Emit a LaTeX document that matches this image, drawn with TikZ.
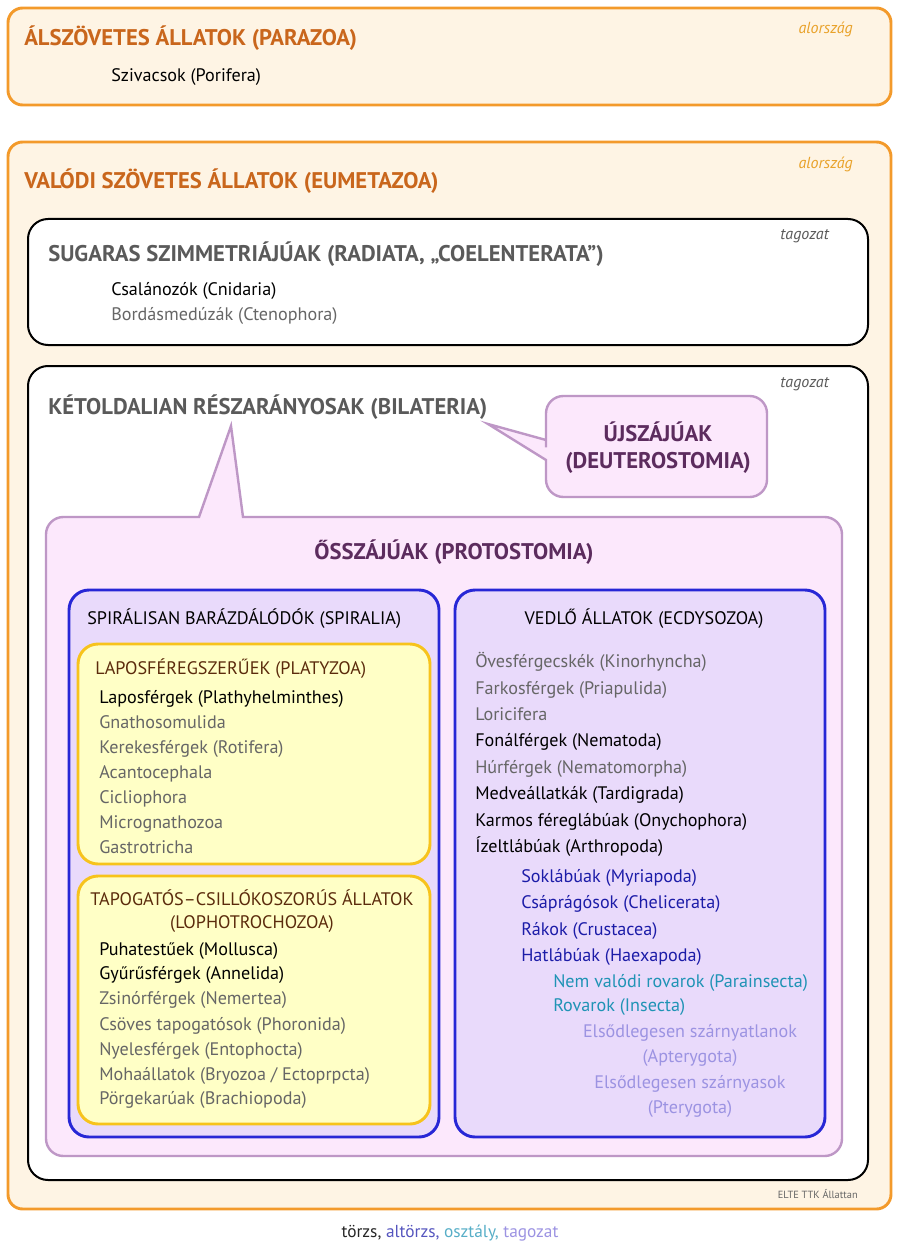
\documentclass[tikz,border=0pt]{standalone}
\usepackage{fontspec}
\setmainfont{PT Sans}
\usetikzlibrary{positioning}
\definecolor{orangeline}{RGB}{243,154,43}
\definecolor{creamfill}{RGB}{254,244,228}
\definecolor{orangetext}{RGB}{201,102,28}
\definecolor{ranktext}{RGB}{233,162,42}
\definecolor{calloutline}{RGB}{190,151,198}
\definecolor{calloutfill}{RGB}{252,232,252}
\definecolor{callouttext}{RGB}{92,44,94}
\definecolor{cladeblue}{RGB}{39,39,214}
\definecolor{cladefill}{RGB}{233,218,251}
\definecolor{groupgold}{RGB}{247,195,28}
\definecolor{groupfill}{RGB}{255,255,198}
\definecolor{grouptext}{RGB}{91,43,12}
\definecolor{headgray}{RGB}{90,90,90}
\definecolor{itemgray}{RGB}{102,102,102}
\definecolor{subphylum}{RGB}{28,28,168}
\definecolor{classteal}{RGB}{31,147,181}
\definecolor{orderlilac}{RGB}{156,147,226}

\begin{document}
\begin{tikzpicture}[
    x=0.75pt, y=-0.75pt,
    kingdom/.style={draw=orangeline, fill=creamfill, line width=2.2pt, rounded corners=11pt},
    division/.style={draw=black, fill=white, line width=1.5pt, rounded corners=15pt},
    callout/.style={draw=calloutline, fill=calloutfill, line width=1.8pt},
    clade/.style={draw=cladeblue, fill=cladefill, line width=2.2pt, rounded corners=15pt},
    group/.style={draw=groupgold, fill=groupfill, line width=2.2pt, rounded corners=15pt},
    head/.style={anchor=base west, inner sep=0pt, font=\bfseries\fontsize{17}{20}\selectfont},
    rank/.style={anchor=base east, inner sep=0pt, font=\itshape\fontsize{12}{14}\selectfont},
    item/.style={anchor=base west, inner sep=0pt, font=\fontsize{13.6}{16}\selectfont},
    mid/.style={item, anchor=base}
]
    \useasboundingbox (0,0) rectangle (900,1241);

    % alorszagok
    \draw[kingdom] (8,8) rectangle (891,105);
    \node[head, orangetext] (parazoa) at (24,46) {ÁLSZÖVETES ÁLLATOK (PARAZOA)};
    \node[rank, ranktext] (rank1) at (853,34) {alország};
    \node[item] (porifera) at (111,82) {Szivacsok (Porifera)};

    \draw[kingdom] (8,142) rectangle (891,1209);
    \node[head, orangetext] (eumetazoa) at (24,189) {VALÓDI SZÖVETES ÁLLATOK (EUMETAZOA)};
    \node[rank, ranktext] (rank2) at (853,169) {alország};
    \node[rank, itemgray, font=\fontsize{7.8}{9}\selectfont] (source) at (858,1198) {ELTE TTK Állattan};

    % tagozatok
    \draw[division] (28,219) rectangle (868,345);
    \node[rank, headgray] (rank3) at (829,239) {tagozat};
    \node[head, headgray] (radiata) at (48,262) {SUGARAS SZIMMETRIÁJÚAK (RADIATA, „COELENTERATA”)};
    \node[item] (cnidaria) at (111,295) {Csalánozók (Cnidaria)};
    \node[item, itemgray] (ctenophora) at (111,320) {Bordásmedúzák (Ctenophora)};

    \draw[division] (28,366) rectangle (868,1180);
    \node[rank, headgray] (rank4) at (829,387) {tagozat};
    \node[head, headgray] (bilateria) at (48,414) {KÉTOLDALIAN RÉSZARÁNYOSAK (BILATERIA)};

    % szovegbuborekok
    \filldraw[callout] [rounded corners=13pt] (546,475) -- (546,497) -- (767,497) -- (767,396) -- (546,396) -- (546,430)
        [sharp corners] -- (546,440) -- (488,424) -- (546,460) -- cycle;
    \node[mid, callouttext, font=\bfseries\fontsize{17}{20}\selectfont] (deutero) at (658,441) {ÚJSZÁJÚAK};
    \node[mid, callouttext, font=\bfseries\fontsize{17}{20}\selectfont] (deutero2) at (658,468) {(DEUTEROSTOMIA)};

    \filldraw[callout] [rounded corners=13pt] (150,517) -- (46,517) -- (46,1156) -- (842,1156) -- (842,517) -- (300,517)
        [sharp corners] -- (243,517) -- (231,426) -- (199,517) -- cycle;
    \node[mid, callouttext, font=\bfseries\fontsize{17}{20}\selectfont] (protostomia) at (454,559) {ŐSSZÁJÚAK (PROTOSTOMIA)};

    % Spiralia
    \draw[clade] (69,590) rectangle (439,1137);
    \node[item] (spiralia) at (87,624) {SPIRÁLISAN BARÁZDÁLÓDÓK (SPIRALIA)};

    \draw[group] (78,644) rectangle (430,864);
    \node[item, grouptext] (platyzoa) at (95,674) {LAPOSFÉREGSZERŰEK (PLATYZOA)};
    \node[item] (plathy) at (99,703) {Laposférgek (Plathyhelminthes)};
    \node[item, itemgray] (gnatho) at (99,728) {Gnathosomulida};
    \node[item, itemgray] (rotifera) at (99,753) {Kerekesférgek (Rotifera)};
    \node[item, itemgray] (acanto) at (99,778) {Acantocephala};
    \node[item, itemgray] (ciclio) at (99,803) {Cicliophora};
    \node[item, itemgray] (microg) at (99,828) {Micrognathozoa};
    \node[item, itemgray] (gastro) at (99,853) {Gastrotricha};

    \draw[group] (78,876) rectangle (430,1124);
    \node[mid, grouptext] (lopho) at (252,905) {TAPOGATÓS–CSILLÓKOSZORÚS ÁLLATOK};
    \node[mid, grouptext] (lopho2) at (252,928) {(LOPHOTROCHOZOA)};
    \node[item] (mollusca) at (99,955) {Puhatestűek (Mollusca)};
    \node[item] (annelida) at (99,979) {Gyűrűsférgek (Annelida)};
    \node[item, itemgray] (nemertea) at (99,1004) {Zsinórférgek (Nemertea)};
    \node[item, itemgray] (phoronida) at (99,1030) {Csöves tapogatósok (Phoronida)};
    \node[item, itemgray] (entoprocta) at (99,1055) {Nyelesférgek (Entophocta)};
    \node[item, itemgray] (bryozoa) at (99,1080) {Mohaállatok (Bryozoa / Ectoprpcta)};
    \node[item, itemgray] (brachio) at (99,1104) {Pörgekarúak (Brachiopoda)};

    % Ecdysozoa
    \draw[clade] (455,590) rectangle (825,1137);
    \node[mid] (ecdysozoa) at (644,624) {VEDLŐ ÁLLATOK (ECDYSOZOA)};
    \node[item, itemgray] (kinorhyncha) at (475,667) {Övesférgecskék (Kinorhyncha)};
    \node[item, itemgray] (priapulida) at (475,694) {Farkosférgek (Priapulida)};
    \node[item, itemgray] (loricifera) at (475,720) {Loricifera};
    \node[item] (nematoda) at (475,746) {Fonálférgek (Nematoda)};
    \node[item, itemgray] (nematomorpha) at (475,773) {Húrférgek (Nematomorpha)};
    \node[item] (tardigrada) at (475,799) {Medveállatkák (Tardigrada)};
    \node[item] (onychophora) at (475,826) {Karmos féreglábúak (Onychophora)};
    \node[item] (arthropoda) at (475,852) {Ízeltlábúak (Arthropoda)};
    \node[item, subphylum] (myriapoda) at (521,882) {Soklábúak (Myriapoda)};
    \node[item, subphylum] (chelicerata) at (521,908) {Csáprágósok (Chelicerata)};
    \node[item, subphylum] (crustacea) at (521,935) {Rákok (Crustacea)};
    \node[item, subphylum] (hexapoda) at (521,961) {Hatlábúak (Haexapoda)};
    \node[item, classteal] (parainsecta) at (553,987) {Nem valódi rovarok (Parainsecta)};
    \node[item, classteal] (insecta) at (553,1011) {Rovarok (Insecta)};
    \node[mid, orderlilac] (apterygota) at (690,1037) {Elsődlegesen szárnyatlanok};
    \node[mid, orderlilac] (apterygota2) at (690,1062) {(Apterygota)};
    \node[mid, orderlilac] (pterygota) at (690,1088) {Elsődlegesen szárnyasok};
    \node[mid, orderlilac] (pterygota2) at (690,1113) {(Pterygota)};

    % jelmagyarazat
    \node[mid, font=\fontsize{13}{15}\selectfont] (legend) at (450,1237)
        {\textcolor{black!85}{törzs,} \textcolor{subphylum!75!white}{altörzs,} \textcolor{classteal!75!white}{osztály,} \textcolor{orderlilac}{tagozat}};
\end{tikzpicture}
\end{document}
